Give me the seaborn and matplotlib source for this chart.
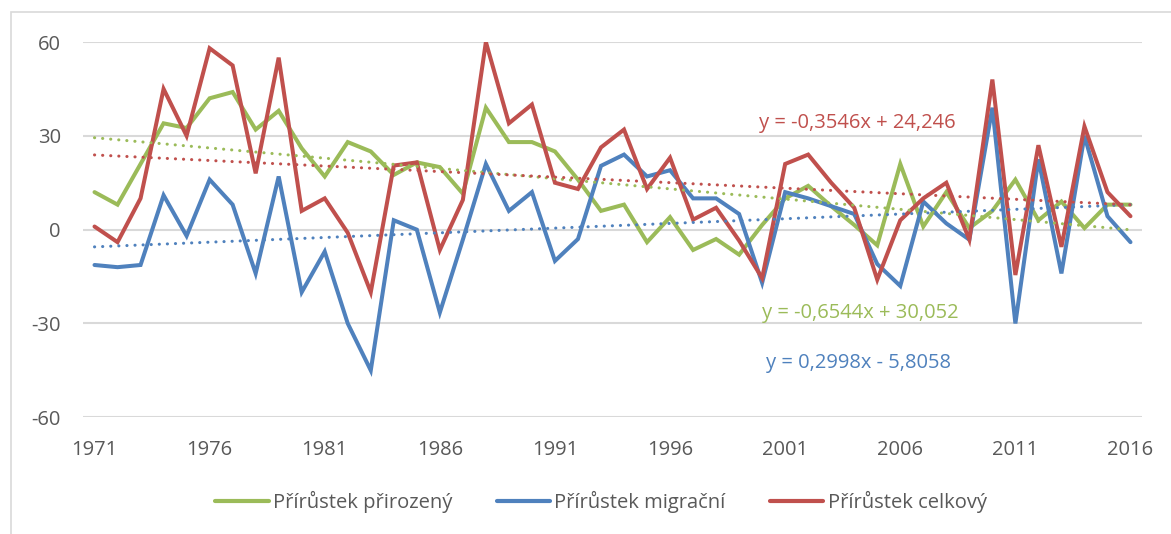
import numpy as np
import pandas as pd
import matplotlib
matplotlib.use("Agg")
import matplotlib.pyplot as plt
from matplotlib.lines import Line2D
from matplotlib.patches import Rectangle
import seaborn as sns

# ---------------- data ----------------
years = list(range(1971, 2017))

natural = [12, 8, 21, 34, 32.5, 42, 44, 32, 38, 26,
           17, 28, 25, 17.5, 21.5, 20, 11.5, 39, 28, 28,
           25, 16, 6, 8, -4, 4, -6.5, -3, -8, 1.5,
           10, 14, 7.5, 1.5, -5, 21, 1, 12, 0.5, 6,
           16, 3, 9, 0.5, 8, 8]

migration = [-11.3, -12, -11.3, 11, -2, 16, 8, -14, 17, -20,
             -7, -30, -45, 3, 0, -26.5, -3.2, 21, 6, 12,
             -10, -3, 20.4, 24, 17, 19, 10, 10, 5, -17,
             12, 10, 7.5, 5, -11, -18, 9, 2, -3.2, 39,
             -30, 22.5, -14, 30, 4.3, -4]

total = [1, -4, 10, 45, 30, 58, 52.5, 18, 55, 6,
         10, -1, -20, 20.5, 21.5, -6.5, 9.5, 60, 34, 40,
         15, 13, 26.3, 32, 13, 23, 3.2, 7, -3.5, -15.5,
         21, 24, 15, 7, -16, 3, 10, 15, -3.2, 48,
         -14.5, 27, -5.5, 33, 12, 4.3]

series_names = ["Přírůstek přirozený", "Přírůstek migrační", "Přírůstek celkový"]
series_colors = ["#9BBB59", "#4F81BD", "#C0504D"]

# trendline coefficients (slope, intercept) as printed on the chart (x = 1..46)
trend_slopes = [-0.6544, 0.2998, -0.3546]
trend_intercepts = [30.052, -5.8058, 24.246]
trend_labels = ["y = -0,6544x + 30,052", "y = 0,2998x - 5,8058", "y = -0,3546x + 24,246"]

y_ticks = [-60, -30, 0, 30, 60]
x_tick_years = list(range(1971, 2017, 5))

# ---------------- style ----------------
sns.set_theme(style="white")
plt.rcParams["font.family"] = ["Open Sans", "DejaVu Sans"]
plt.rcParams["axes.unicode_minus"] = False

W, H = 1171, 534
fig = plt.figure(figsize=(W / 100, H / 100), dpi=100)
ax = fig.add_axes([83 / W, 1 - 417.3 / H, (1142 - 83) / W, (417.3 - 42) / H])

df = pd.DataFrame({
    "year": years * 3,
    "value": natural + migration + total,
    "series": [series_names[0]] * len(years) + [series_names[1]] * len(years) + [series_names[2]] * len(years),
})

sns.lineplot(data=df, x="year", y="value", hue="series", hue_order=series_names,
             palette=series_colors, linewidth=2.9, legend=False, ax=ax,
             zorder=3)
for ln in ax.get_lines():
    ln.set_solid_joinstyle("miter")
    ln.set_solid_capstyle("round")

idx = np.arange(1, len(years) + 1)
for s, b, c in zip(trend_slopes, trend_intercepts, series_colors):
    ax.plot(years, b + s * idx, color=c, linewidth=2.2,
            linestyle=(0, (0.05, 2.6)), dash_capstyle="round", zorder=4)

# equation labels (baseline positions)
eq_pos = [(2000.0, -28.2), (2000.15, -44.2), (1999.88, 32.6)]
for (xx, yy), lab, c in zip(eq_pos, trend_labels, series_colors):
    ax.text(xx, yy, lab, color=c, fontsize=14.5, ha="left", va="baseline")

ax.set_xlim(1970.5, 2016.5)
ax.set_ylim(-60, 60)
ax.set_yticks(y_ticks)
ax.set_xticks(x_tick_years)
ax.set_xticklabels([str(y) for y in x_tick_years])
ax.yaxis.grid(True, color="#D9D9D9", linewidth=1.5)
ax.xaxis.grid(False)
for sp in ax.spines.values():
    sp.set_visible(False)
ax.tick_params(axis="both", length=0, labelsize=14.5, labelcolor="#595959")
ax.tick_params(axis="x", pad=16.5)
ax.tick_params(axis="y", pad=16)
ax.set_xlabel("")
ax.set_ylabel("")

handles = [Line2D([0], [0], color=c, linewidth=3.0, solid_capstyle="round") for c in series_colors]
leg = fig.legend(handles, series_names, loc="center", bbox_to_anchor=(601 / W, 1 - 502 / H),
                 ncol=3, frameon=False, fontsize=14.5, handlelength=2.65, handletextpad=0.22,
                 columnspacing=2.2, borderpad=0, borderaxespad=0)
for t in leg.get_texts():
    t.set_color("#595959")

# outer chart border
fig.patches.append(Rectangle((11 / W, -0.1), 1.2, 1.1 - 12.5 / H, transform=fig.transFigure,
                             fill=False, edgecolor="#D9D9D9", linewidth=1.2))

fig.savefig("out.png", dpi=100)
